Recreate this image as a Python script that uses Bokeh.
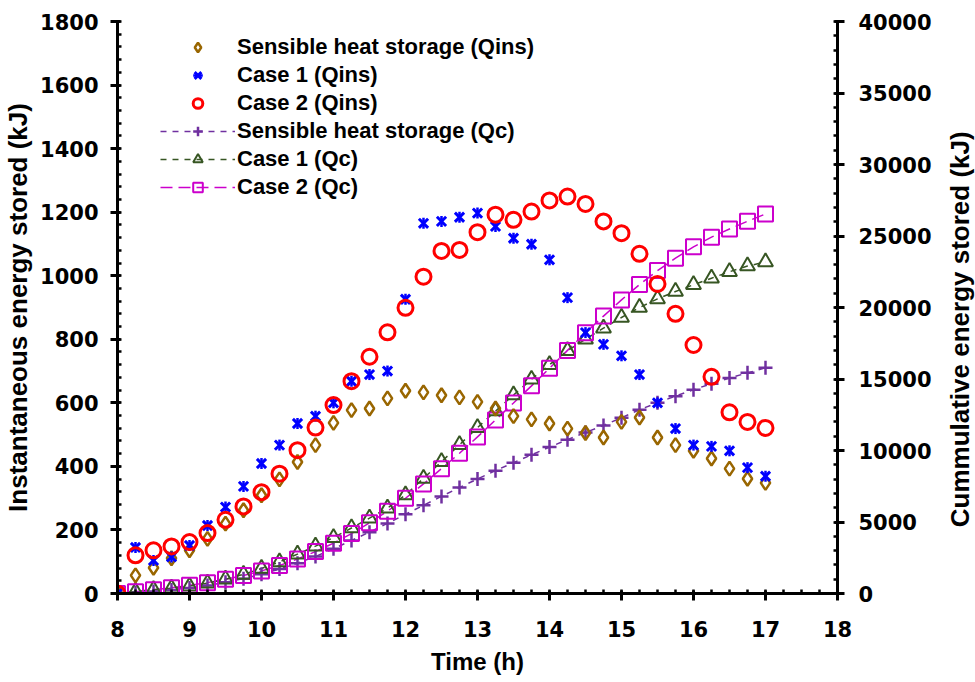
import math
from bokeh.plotting import figure
from bokeh.layouts import row
from bokeh.models import Range1d, LinearAxis, Legend, LegendItem, SingleIntervalTicker
from bokeh.core.properties import value
from bokeh.embed import file_html
from bokeh.resources import INLINE

# ---------------- data ----------------
time_h = [8.0, 8.25, 8.5, 8.75, 9.0, 9.25, 9.5, 9.75,
          10.0, 10.25, 10.5, 10.75, 11.0, 11.25, 11.5, 11.75,
          12.0, 12.25, 12.5, 12.75, 13.0, 13.25, 13.5, 13.75,
          14.0, 14.25, 14.5, 14.75, 15.0, 15.25, 15.5, 15.75,
          16.0, 16.25, 16.5, 16.75, 17.0]

sensible_qins = [0, 57, 81, 111, 136, 172, 220, 262,
                 309, 359, 414, 467, 537, 577, 582, 614,
                 638, 633, 624, 617, 603, 582, 558, 548,
                 535, 519, 505, 491, 540, 554, 491, 467,
                 449, 425, 393, 361, 348]

case1_qins = [0, 145, 104, 115, 151, 214, 272, 337,
              409, 467, 535, 558, 600, 668, 689, 700,
              926, 1165, 1171, 1184, 1197, 1155, 1118, 1099,
              1050, 931, 821, 784, 748, 689, 600, 519,
              467, 463, 449, 396, 369]

case2_qins = [0, 120, 136, 148, 162, 190, 232, 274,
              319, 377, 451, 522, 593, 668, 745, 822,
              899, 997, 1078, 1081, 1137, 1192, 1176, 1202,
              1237, 1249, 1226, 1171, 1134, 1069, 974, 880,
              782, 682, 570, 540, 521]

sensible_qc = [0, 60, 140, 250, 390, 560, 780, 1040,
               1350, 1710, 2120, 2590, 3130, 3710, 4290, 4900,
               5540, 6170, 6790, 7410, 8010, 8590, 9150, 9700,
               10240, 10760, 11260, 11750, 12290, 12850, 13340, 13800,
               14250, 14670, 15070, 15430, 15780]

case1_qc = [0, 150, 260, 370, 520, 730, 1000, 1340,
            1750, 2210, 2750, 3310, 3910, 4580, 5270, 5970,
            6890, 8050, 9220, 10400, 11600, 12760, 13880, 14980,
            16000, 16980, 17780, 18560, 19300, 20000, 20600, 21120,
            21590, 22050, 22500, 22900, 23180]

case2_qc = [0, 120, 260, 400, 570, 760, 990, 1260,
            1580, 1960, 2410, 2930, 3520, 4190, 4940, 5760,
            6660, 7660, 8730, 9810, 10950, 12140, 13320, 14520,
            15750, 17000, 18230, 19400, 20530, 21600, 22580, 23450,
            24240, 24920, 25490, 26030, 26540]

series_labels = ["Sensible heat storage (Qins)", "Case 1 (Qins)", "Case 2 (Qins)",
                 "Sensible heat storage (Qc)", "Case 1 (Qc)", "Case 2 (Qc)"]
right_title_text = "Cummulative energy stored (kJ)"

# ---------------- styling ----------------
FONT = "Liberation Sans"
TICK_FONT = "DejaVu Sans"
BROWN = "#996600"
BLUE = "#0000FF"
RED = "#FF0000"
PURPLE = "#7030A0"
GREEN = "#375623"
MAGENTA = "#CC00CC"

p = figure(width=940, height=682, output_backend="svg", toolbar_location=None,
           x_range=Range1d(8, 18), y_range=Range1d(0, 1800),
           min_border_left=117, min_border_right=103,
           min_border_top=21, min_border_bottom=89,
           x_axis_label="Time (h)",
           y_axis_label="Instantaneous energy stored (kJ)")
p.extra_y_ranges = {"cum": Range1d(0, 40000)}
p.xgrid.visible = False
p.ygrid.visible = False
p.outline_line_color = None
p.background_fill_color = "white"
p.border_fill_color = "white"

right_axis = LinearAxis(y_range_name="cum")
p.add_layout(right_axis, "right")

p.xaxis.ticker = SingleIntervalTicker(interval=1, num_minor_ticks=4)
p.yaxis[0].ticker = SingleIntervalTicker(interval=200, num_minor_ticks=5)
right_axis.ticker = SingleIntervalTicker(interval=5000, num_minor_ticks=5)

for ax in [p.xaxis[0], p.yaxis[0], right_axis]:
    ax.axis_line_width = 3
    ax.axis_line_color = "black"
    ax.major_tick_line_width = 3
    ax.minor_tick_line_width = 2.5
    ax.major_tick_line_color = "black"
    ax.minor_tick_line_color = "black"
    ax.major_tick_out = 7
    ax.major_tick_in = 3
    ax.minor_tick_out = 0
    ax.minor_tick_in = 4
    ax.major_label_text_font = TICK_FONT
    ax.major_label_text_font_style = "bold"
    ax.major_label_text_font_size = "21px"
    ax.major_label_text_color = "black"
    ax.axis_label_text_font = FONT
    ax.axis_label_text_font_style = "bold"
    ax.axis_label_text_font_size = "26px"
    ax.axis_label_text_color = "black"

p.xaxis[0].major_label_standoff = 20
p.xaxis[0].axis_label_standoff = 8
p.xaxis[0].axis_label_text_font_size = "24px"
p.yaxis[0].major_label_standoff = 12
p.yaxis[0].axis_label_standoff = 4
right_axis.major_label_standoff = 14

# ---------------- glyphs ----------------
r_sq_line = p.line(time_h, case2_qc, y_range_name="cum", line_color=MAGENTA,
                   line_width=1.5, line_dash="12 6")
r_tr_line = p.line(time_h, case1_qc, y_range_name="cum", line_color=GREEN,
                   line_width=1.5, line_dash="6 6")
r_pl_line = p.line(time_h, sensible_qc, y_range_name="cum", line_color=PURPLE,
                   line_width=1.5, line_dash="6 6")

r_pl = p.scatter(time_h, sensible_qc, y_range_name="cum", marker="cross", size=14,
                 line_color=PURPLE, line_width=2.5, fill_color=None)
r_tr = p.scatter(time_h, case1_qc, y_range_name="cum", marker="triangle", size=15,
                 line_color=GREEN, line_width=2, fill_color=None)
r_sq = p.scatter(time_h, case2_qc, y_range_name="cum", marker="square", size=15,
                 line_color=MAGENTA, line_width=2, fill_color=None)

r_dia = p.scatter(time_h, sensible_qins, marker="diamond", size=14,
                  line_color=BROWN, line_width=2.5, fill_color=None)
r_x1 = p.scatter(time_h, case1_qins, marker="x", size=13,
                 line_color=BLUE, line_width=3)
r_x2 = p.scatter(time_h, case1_qins, marker="dash", angle=math.pi / 2, size=11,
                 line_color=BLUE, line_width=2.5)
r_ci = p.scatter(time_h, case2_qins, marker="circle", size=15,
                 line_color=RED, line_width=3, fill_color=None)

items = [
    LegendItem(label=series_labels[0], renderers=[r_dia]),
    LegendItem(label=series_labels[1], renderers=[r_x1, r_x2]),
    LegendItem(label=series_labels[2], renderers=[r_ci]),
    LegendItem(label=series_labels[3], renderers=[r_pl_line, r_pl]),
    LegendItem(label=series_labels[4], renderers=[r_tr_line, r_tr]),
    LegendItem(label=series_labels[5], renderers=[r_sq_line, r_sq]),
]
legend = Legend(items=items, location=(43, 393))
legend.border_line_color = None
legend.background_fill_alpha = 0
legend.padding = 0
legend.margin = 0
legend.spacing = 2
legend.glyph_width = 75
legend.glyph_height = 24
legend.label_height = 24
legend.label_standoff = 2
legend.label_text_font = FONT
legend.label_text_font_style = "bold"
legend.label_text_font_size = "22px"
legend.label_text_color = "black"
p.add_layout(legend)

# ---------------- right-hand axis title (separate narrow panel) ----------------
t = figure(width=35, height=682, output_backend="svg", toolbar_location=None,
           x_range=Range1d(0, 1), y_range=Range1d(0, 682),
           x_axis_type=None, y_axis_type=None,
           min_border_left=0, min_border_right=0, min_border_top=0, min_border_bottom=0)
t.outline_line_color = None
t.xgrid.visible = False
t.ygrid.visible = False
t.background_fill_color = "white"
t.border_fill_color = "white"
t.text(x=[0.55], y=[315], text=[right_title_text], angle=math.pi / 2,
       text_align="center", text_baseline="middle",
       text_font=value(FONT), text_font_style="bold", text_font_size="26px",
       text_color="black")

layout = row(p, t, spacing=0)
open("out.html", "w").write(file_html(layout, INLINE))
